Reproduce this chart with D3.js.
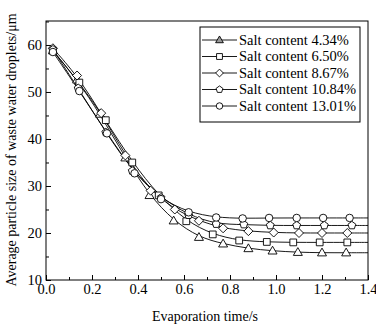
<!DOCTYPE html>
<html>
<head>
<meta charset="utf-8">
<script src="https://cdn.jsdelivr.net/npm/d3@7"></script>
<style>
  body { margin: 0; background: #fff; }
  svg text { font-family: "Liberation Serif", "Times New Roman", serif; fill: #000; }
</style>
</head>
<body>
<svg width="376" height="329"></svg>
<script>

// data
var series_names = ["Salt content 4.34%", "Salt content 6.50%", "Salt content 8.67%", "Salt content 10.84%", "Salt content 13.01%"]
var series_symbols = ["triangle", "square", "diamond", "pentagon", "circle"]

var t_434 = [0.03, 0.135, 0.235, 0.345, 0.45, 0.555, 0.665, 0.77, 0.88, 0.985, 1.095, 1.2, 1.305]
var v_434 = [58.8, 52.6, 45.3, 36.0, 28.0, 22.6, 19.1, 17.7, 16.7, 16.2, 15.9, 15.8, 15.8]

var t_650 = [0.03, 0.145, 0.26, 0.375, 0.49, 0.61, 0.725, 0.84, 0.96, 1.075, 1.19, 1.31]
var v_650 = [58.8, 52.0, 44.0, 35.0, 28.0, 22.5, 19.7, 18.4, 18.1, 18.0, 18.0, 18.0]

var t_867 = [0.03, 0.135, 0.24, 0.345, 0.455, 0.56, 0.665, 0.77, 0.88, 0.99, 1.1, 1.2, 1.31]
var v_867 = [59.3, 53.5, 45.5, 36.5, 29.0, 25.0, 22.6, 21.0, 20.4, 20.1, 20.0, 20.0, 20.0]

var t_1084 = [0.03, 0.14, 0.26, 0.375, 0.5, 0.62, 0.74, 0.86, 0.975, 1.09, 1.21, 1.33]
var v_1084 = [59.0, 50.8, 41.4, 33.2, 27.5, 23.8, 21.9, 21.8, 21.6, 21.6, 21.6, 21.6]

var t_1301 = [0.03, 0.145, 0.265, 0.385, 0.5, 0.62, 0.74, 0.855, 0.97, 1.09, 1.205, 1.32]
var v_1301 = [58.5, 50.2, 41.2, 32.7, 27.2, 24.4, 23.3, 23.1, 23.2, 23.2, 23.2, 23.2]

var x_ticks = [0, 0.2, 0.4, 0.6, 0.8, 1.0, 1.2, 1.4]
var y_ticks = [10, 20, 30, 40, 50, 60]

var all_t = [t_434, t_650, t_867, t_1084, t_1301]
var all_v = [v_434, v_650, v_867, v_1084, v_1301]

function draw_chart() {

  var series = series_names.map(function(name, i){
    return {
      name: name,
      symbol: series_symbols[i],
      points: all_t[i].map(function(t, j){ return {t: t, v: all_v[i][j]}; })
    }
  })

  var svg = d3.select("svg")

  var m_left = 46, m_right = 368, m_top = 21, m_bottom = 280

  var x = d3.scaleLinear().domain([0, 1.4]).range([m_left, m_right])
  var y = d3.scaleLinear().domain([10, 65.1]).range([m_bottom, m_top])

  // frame
  svg.append("rect")
    .attr("x", m_left).attr("y", m_top)
    .attr("width", m_right - m_left).attr("height", m_bottom - m_top)
    .style("fill", "none").style("stroke", "#000").style("stroke-width", 1)

  // axes, ticks pointing inward
  svg.append("g").attr("transform", "translate(0," + m_bottom + ")")
    .call(d3.axisBottom(x).tickValues(x_ticks).tickFormat(d3.format(".1f")).tickSizeInner(-5).tickSizeOuter(0).tickPadding(4))
  svg.append("g").attr("transform", "translate(0," + m_bottom + ")")
    .call(d3.axisBottom(x).tickValues(x_ticks.slice(0, -1).map(function(d){ return d + 0.1; })).tickFormat("").tickSizeInner(-3).tickSizeOuter(0))

  svg.append("g").attr("transform", "translate(" + m_left + ",0)")
    .call(d3.axisLeft(y).tickValues(y_ticks).tickFormat(d3.format("d")).tickSizeInner(-5).tickSizeOuter(0).tickPadding(4))
  svg.append("g").attr("transform", "translate(" + m_left + ",0)")
    .call(d3.axisLeft(y).tickValues(y_ticks.map(function(d){ return d + 5; })).tickFormat("").tickSizeInner(-3).tickSizeOuter(0))

  svg.selectAll(".domain").remove()
  svg.selectAll(".tick line").style("stroke", "#000")
  svg.selectAll(".tick text")
    .style("font-family", "'Liberation Serif', serif")
    .style("font-size", "14.5px")
    .style("fill", "#000")

  // axis titles
  svg.append("text")
    .attr("x", (m_left + m_right) / 2 - 2).attr("y", 321)
    .attr("text-anchor", "middle")
    .style("font-size", "14px")
    .text("Evaporation time/s")

  svg.append("text")
    .attr("transform", "translate(16,150) rotate(-90)")
    .attr("text-anchor", "middle")
    .style("font-size", "14px")
    .text("Average particle size of waste water droplets/\u03bcm")

  // marker shapes
  function symbolPath(kind, s) {
    if (kind == "triangle") return "M0," + (-s * 0.62) + "L" + (s * 0.6) + "," + (s * 0.42) + "L" + (-s * 0.6) + "," + (s * 0.42) + "Z"
    if (kind == "square") return "M" + (-s * 0.45) + "," + (-s * 0.45) + "h" + (s * 0.9) + "v" + (s * 0.9) + "h" + (-s * 0.9) + "Z"
    if (kind == "diamond") return "M0," + (-s * 0.6) + "L" + (s * 0.6) + ",0L0," + (s * 0.6) + "L" + (-s * 0.6) + ",0Z"
    if (kind == "pentagon") {
      var pts = d3.range(5).map(function(k){
        var a = -Math.PI / 2 + k * 2 * Math.PI / 5
        return [Math.cos(a) * s * 0.55, Math.sin(a) * s * 0.55]
      })
      return "M" + pts.join("L") + "Z"
    }
    return d3.arc()({innerRadius: 0, outerRadius: s * 0.5, startAngle: 0, endAngle: 2 * Math.PI})
  }

  // fitted lines
  var line = d3.line()
    .x(function(d){ return x(d.t); })
    .y(function(d){ return y(d.v); })
    .curve(d3.curveBasis)

  var plot = svg.append("g")

  series.forEach(function(s){
    var last = s.points[s.points.length - 1]
    var pts = s.points.concat([{t: x.domain()[1], v: last.v}])
    plot.append("path")
      .datum(pts)
      .attr("d", line)
      .style("fill", "none")
      .style("stroke", "#000")
      .style("stroke-width", 0.9)
  })

  series.forEach(function(s){
    plot.selectAll(".m-" + s.symbol).data(s.points)
      .enter().append("path")
        .attr("class", "m-" + s.symbol)
        .attr("transform", function(d){ return "translate(" + x(d.t) + "," + y(d.v) + ")"; })
        .attr("d", symbolPath(s.symbol, 7.5))
        .style("fill", "#fff")
        .style("stroke", "#000")
        .style("stroke-width", 0.9)
  })

  // legend
  var legend = svg.append("g")
  legend.append("rect")
    .attr("x", 200).attr("y", 27).attr("width", 160).attr("height", 95)
    .style("fill", "#fff").style("stroke", "#000").style("stroke-width", 1)

  series.forEach(function(s, i){
    var ly = 40 + i * 16.5
    legend.append("line")
      .attr("x1", 202).attr("x2", 237).attr("y1", ly).attr("y2", ly)
      .style("stroke", "#000").style("stroke-width", 0.9)
    legend.append("path")
      .attr("transform", "translate(219.5," + ly + ")")
      .attr("d", symbolPath(s.symbol, 6.5))
      .style("fill", s.symbol == "triangle" ? "#999" : "#fff")
      .style("stroke", "#000").style("stroke-width", 0.9)
    legend.append("text")
      .attr("x", 239).attr("y", ly + 4.5)
      .style("font-size", "14.5px")
      .text(s.name)
  })
}

draw_chart()

</script>
</body>
</html>
